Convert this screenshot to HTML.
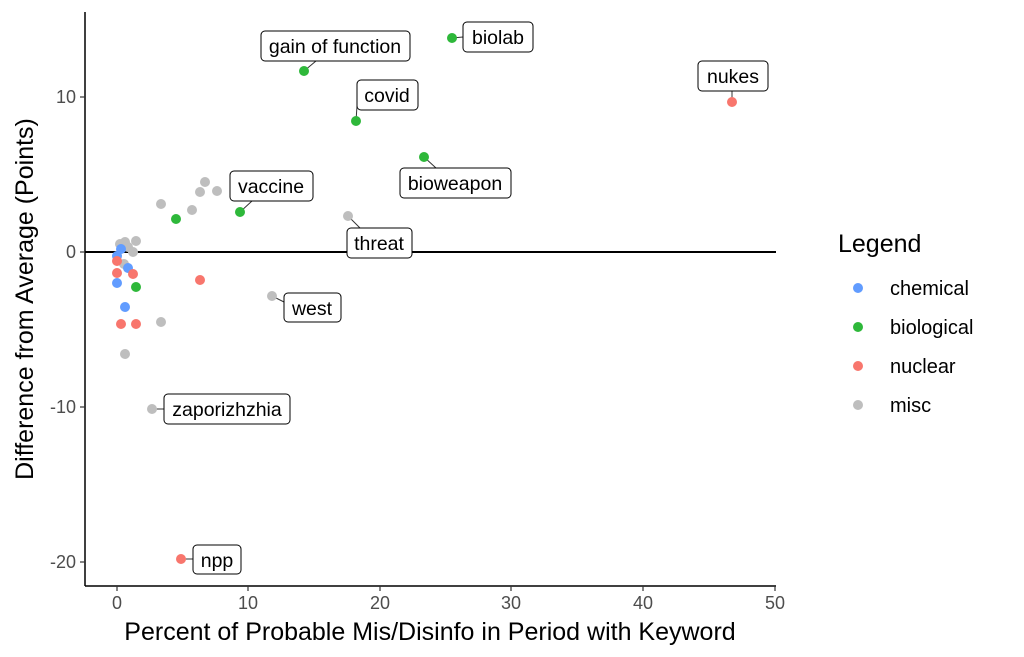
<!DOCTYPE html>
<html><head><style>body{margin:0;background:#fff}svg{display:block}text{font-family:"Liberation Sans",sans-serif}</style></head><body>
<svg width="1024" height="657" viewBox="0 0 1024 657">
<g stroke="#333" stroke-width="1.2">
<line x1="85" y1="12" x2="85" y2="586" stroke="#000" stroke-width="1.5"/>
<line x1="85" y1="586" x2="776" y2="586" stroke="#000" stroke-width="1.5"/>
<line x1="85" y1="252" x2="776" y2="252" stroke="#000" stroke-width="2"/>
<line x1="80" y1="97" x2="85" y2="97"/><line x1="80" y1="252" x2="85" y2="252"/><line x1="80" y1="407" x2="85" y2="407"/><line x1="80" y1="562" x2="85" y2="562"/>
<line x1="117" y1="586" x2="117" y2="591"/><line x1="248" y1="586" x2="248" y2="591"/><line x1="380" y1="586" x2="380" y2="591"/><line x1="511" y1="586" x2="511" y2="591"/><line x1="643" y1="586" x2="643" y2="591"/><line x1="775" y1="586" x2="775" y2="591"/>
</g>
<g font-size="18" fill="#4d4d4d" text-anchor="end">
<text x="76" y="103">10</text><text x="76" y="258">0</text><text x="76" y="413">-10</text><text x="76" y="568">-20</text>
</g>
<g font-size="18" fill="#4d4d4d" text-anchor="middle">
<text x="117" y="609">0</text><text x="248" y="609">10</text><text x="380" y="609">20</text><text x="511" y="609">30</text><text x="643" y="609">40</text><text x="775" y="609">50</text>
</g>
<text x="430" y="640" font-size="25" text-anchor="middle">Percent of Probable Mis/Disinfo in Period with Keyword</text>
<text transform="translate(33,299) rotate(-90)" font-size="25" text-anchor="middle">Difference from Average (Points)</text>
<g stroke="#333" stroke-width="1">
<line x1="304" y1="71" x2="316" y2="61"/><line x1="356" y1="121" x2="357" y2="106"/><line x1="452" y1="38" x2="463" y2="37"/><line x1="424" y1="157" x2="436" y2="168"/><line x1="240" y1="212" x2="252" y2="201"/><line x1="348" y1="216" x2="360" y2="228"/><line x1="732" y1="102" x2="732" y2="91"/><line x1="272" y1="296" x2="284" y2="302"/><line x1="152" y1="409" x2="164" y2="409"/><line x1="181" y1="559" x2="193" y2="559"/>
</g>
<g fill="#fff" stroke="#000" stroke-width="1">
<rect x="261" y="31" width="149" height="30" rx="4"/><rect x="357" y="80" width="61" height="30" rx="4"/><rect x="463" y="22" width="70" height="30" rx="4"/><rect x="698" y="61" width="70" height="30" rx="4"/><rect x="230" y="171" width="83" height="30" rx="4"/><rect x="400" y="168" width="111" height="30" rx="4"/><rect x="347" y="228" width="65" height="30" rx="4"/><rect x="284" y="293" width="57" height="29" rx="4"/><rect x="164" y="394" width="126" height="30" rx="4"/><rect x="193" y="545" width="48" height="29" rx="4"/>
</g>
<g font-size="19.5" fill="#000" text-anchor="middle">
<text x="335" y="53">gain of function</text><text x="387" y="102">covid</text><text x="498" y="44">biolab</text><text x="733" y="83">nukes</text><text x="271" y="193">vaccine</text><text x="455" y="190">bioweapon</text><text x="379" y="250">threat</text><text x="312" y="315">west</text><text x="227" y="416">zaporizhzhia</text><text x="217" y="567">npp</text>
</g>
<g fill="#bebebe">
<circle cx="205" cy="182" r="5"/><circle cx="200" cy="192" r="5"/><circle cx="217" cy="191" r="5"/><circle cx="161" cy="204" r="5"/><circle cx="192" cy="210" r="5"/><circle cx="125" cy="242" r="5"/><circle cx="120" cy="244" r="5"/><circle cx="128" cy="247" r="5"/><circle cx="136" cy="241" r="5"/><circle cx="133" cy="252" r="5"/><circle cx="124" cy="264" r="5"/><circle cx="161" cy="322" r="5"/><circle cx="125" cy="354" r="5"/><circle cx="272" cy="296" r="5"/><circle cx="152" cy="409" r="5"/><circle cx="348" cy="216" r="5"/>
</g>
<g fill="#619cff"><circle cx="121" cy="249" r="5"/><circle cx="117" cy="256" r="5"/><circle cx="128" cy="268" r="5"/><circle cx="117" cy="283" r="5"/><circle cx="125" cy="307" r="5"/></g>
<g fill="#f8766d"><circle cx="117" cy="261" r="5"/><circle cx="133" cy="274" r="5"/><circle cx="117" cy="273" r="5"/><circle cx="200" cy="280" r="5"/><circle cx="121" cy="324" r="5"/><circle cx="136" cy="324" r="5"/><circle cx="181" cy="559" r="5"/><circle cx="732" cy="102" r="5"/></g>
<g fill="#2eb83a"><circle cx="176" cy="219" r="5"/><circle cx="240" cy="212" r="5"/><circle cx="136" cy="287" r="5"/><circle cx="304" cy="71" r="5"/><circle cx="452" cy="38" r="5"/><circle cx="356" cy="121" r="5"/><circle cx="424" cy="157" r="5"/></g>
<text x="838" y="252" font-size="25">Legend</text>
<circle cx="858" cy="288" r="5" fill="#619cff"/><circle cx="858" cy="327" r="5" fill="#2eb83a"/><circle cx="858" cy="366" r="5" fill="#f8766d"/><circle cx="858" cy="405" r="5" fill="#bebebe"/>
<g font-size="20"><text x="890" y="295">chemical</text><text x="890" y="334">biological</text><text x="890" y="373">nuclear</text><text x="890" y="412">misc</text></g>
</svg>
</body></html>
